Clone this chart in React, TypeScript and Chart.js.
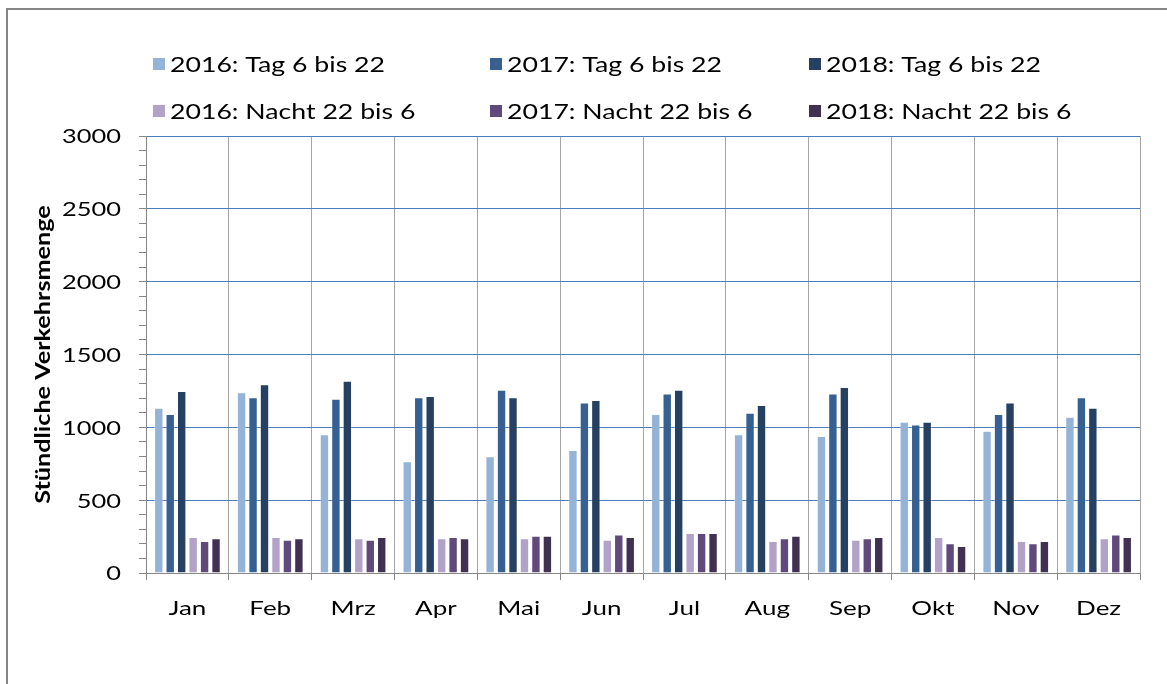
import React, { useEffect, useRef } from 'react';
import { Chart, registerables } from 'chart.js';

Chart.register(...registerables);

const months = ['Jan', 'Feb', 'Mrz', 'Apr', 'Mai', 'Jun', 'Jul', 'Aug', 'Sep', 'Okt', 'Nov', 'Dez'];
const yTickLabels = [0, 500, 1000, 1500, 2000, 2500, 3000];
const tag2016 = [1135, 1240, 952, 767, 801, 844, 1091, 952, 940, 1039, 977, 1073];
const tag2017 = [1091, 1206, 1196, 1206, 1258, 1171, 1233, 1100, 1233, 1020, 1091, 1206];
const tag2018 = [1249, 1295, 1320, 1215, 1206, 1187, 1258, 1153, 1277, 1039, 1171, 1135];
const nacht2016 = [247, 247, 238, 238, 238, 229, 274, 220, 229, 247, 220, 238];
const nacht2017 = [220, 229, 229, 247, 256, 265, 274, 238, 238, 204, 204, 265];
const nacht2018 = [238, 238, 247, 238, 256, 247, 274, 256, 247, 185, 220, 247];

const seriesLabels = [
  '2016: Tag 6 bis 22',
  '2017: Tag 6 bis 22',
  '2018: Tag 6 bis 22',
  '2016: Nacht 22 bis 6',
  '2017: Nacht 22 bis 6',
  '2018: Nacht 22 bis 6',
];
const seriesColors = ['#95B3D7', '#376092', '#254061', '#B3A2C7', '#604A7B', '#403152'];
const seriesData = [tag2016, tag2017, tag2018, nacht2016, nacht2017, nacht2018];

const yTitle = 'Stündliche Verkehrsmenge';
const FONT = 'Lato, "Open Sans", sans-serif';

function drawStretched(ctx: CanvasRenderingContext2D, text: string, x: number, y: number, align: CanvasTextAlign, sx: number) {
  ctx.save();
  ctx.translate(x, y);
  ctx.scale(sx, 1);
  ctx.textAlign = align;
  ctx.fillText(text, 0, 0);
  ctx.restore();
}

const textPlugin = {
  id: 'stretchedText',
  afterDraw(chart: any) {
    const ctx: CanvasRenderingContext2D = chart.ctx;
    const xs = chart.scales.x;
    const ys = chart.scales.y;
    ctx.save();
    ctx.fillStyle = '#000';
    ctx.textBaseline = 'middle';

    // legend (3 columns x 2 rows)
    const colX = [153, 490, 809];
    const rowY = [64, 111];
    ctx.font = `21px ${FONT}`;
    chart.data.datasets.forEach((ds: any, i: number) => {
      const x = colX[i % 3];
      const y = rowY[Math.floor(i / 3)];
      ctx.fillStyle = ds.backgroundColor;
      ctx.fillRect(x, y - 6, 12, 12);
      ctx.fillStyle = '#000';
      drawStretched(ctx, ds.label, x + 17, y + 1, 'left', 1.27);
    });

    // x tick labels
    ctx.font = `20px ${FONT}`;
    months.forEach((m, i) => {
      drawStretched(ctx, m, xs.getPixelForTick(i), 609, 'center', 1.3);
    });

    // y tick labels
    yTickLabels.forEach((v) => {
      drawStretched(ctx, String(v), 121, ys.getPixelForValue(v) + 1, 'right', 1.27);
    });

    // y title (rotated)
    ctx.font = `bold 20px ${FONT}`;
    ctx.save();
    ctx.translate(44, (chart.chartArea.top + chart.chartArea.bottom) / 2);
    ctx.rotate(-Math.PI / 2);
    ctx.scale(1.26, 1);
    ctx.textAlign = 'center';
    ctx.fillText(yTitle, 0, 0);
    ctx.restore();

    ctx.restore();
  },
};

export default function App() {
  const ref = useRef<HTMLCanvasElement>(null);

  useEffect(() => {
    if (!ref.current) return;
    const chart = new Chart(ref.current, {
      type: 'bar',
      data: {
        labels: months,
        datasets: seriesData.map((d, i) => ({
          label: seriesLabels[i],
          data: d,
          backgroundColor: seriesColors[i],
          borderColor: 'rgba(255,255,255,0.3)',
          borderWidth: 1,
          barPercentage: 0.82,
          categoryPercentage: 0.83,
        })),
      },
      options: {
        responsive: false,
        animation: false,
        devicePixelRatio: 1,
        layout: { padding: { top: 136, right: 27, bottom: 0, left: 0 } },
        plugins: {
          legend: { display: false },
          tooltip: { enabled: false },
        },
        scales: {
          x: {
            afterFit: (scale: any) => {
              scale.height = 111;
            },
            grid: {
              color: '#a6a6a6',
              tickColor: '#868686',
              tickLength: 7,
              offset: true,
              lineWidth: 1,
            },
            border: { color: '#868686', width: 1 },
            ticks: { display: false },
          },
          y: {
            min: 0,
            max: 3000,
            afterFit: (scale: any) => {
              scale.width = 146;
            },
            ticks: {
              display: false,
              stepSize: 100,
              autoSkip: false,
            },
            grid: {
              color: (c: any) =>
                c.tick && c.tick.value % 500 === 0 && c.tick.value !== 0 ? '#4A7EBB' : 'rgba(0,0,0,0)',
              tickColor: '#868686',
              tickLength: 7,
              lineWidth: 1,
            },
            border: { color: '#868686', width: 1 },
            title: { display: false },
          },
        },
      },
      plugins: [textPlugin],
    });
    return () => chart.destroy();
  }, []);

  return (
    <div style={{ position: 'fixed', left: 0, top: 0, width: '100vw', height: '100vh', overflow: 'hidden', background: '#fff' }}>
      <div
        style={{
          position: 'absolute',
          left: 6,
          top: 8,
          width: 1220,
          height: 720,
          border: '2px solid #868686',
          boxSizing: 'border-box',
        }}
      />
      <canvas ref={ref} width={1167} height={684} style={{ position: 'absolute', left: 0, top: 0, width: 1167, height: 684 }} />
    </div>
  );
}
